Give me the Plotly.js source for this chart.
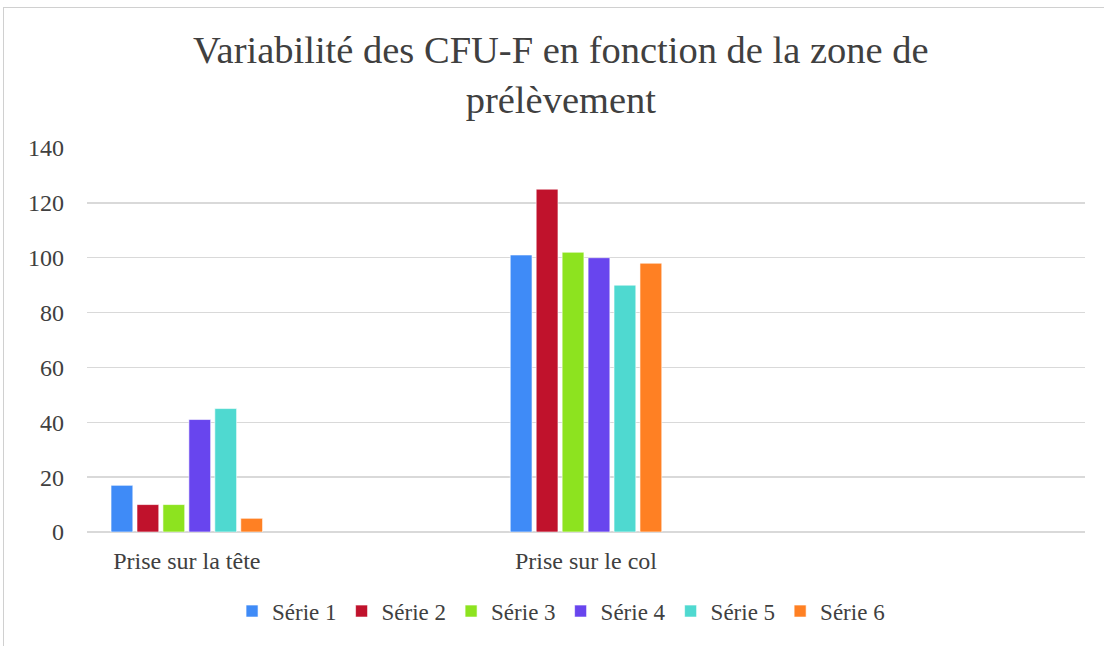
<!DOCTYPE html>
<html>
<head>
<meta charset="utf-8">
<script src="https://cdn.plot.ly/plotly-3.0.1.min.js"></script>
<style>
  html, body { margin: 0; padding: 0; background: #ffffff; }
  #frame { position: absolute; left: 3px; top: 7px; width: 1300px; height: 800px; border: 1px solid #d0d0d0; pointer-events: none; }
  #chart { position: absolute; left: 0; top: 0; width: 1104px; height: 646px; }
</style>
</head>
<body>
<div id="chart"></div>
<div id="frame"></div>
<script>
// Categories (blank slots are empty categories in the original chart)
const categories = ["Prise sur la tête", "", "Prise sur le col", "", ""];
const seriesNames = ["Série 1", "Série 2", "Série 3", "Série 4", "Série 5", "Série 6"];
const serie1 = [17, null, 101, null, null];
const serie2 = [10, null, 125, null, null];
const serie3 = [10, null, 102, null, null];
const serie4 = [41, null, 100, null, null];
const serie5 = [45, null, 90, null, null];
const serie6 = [5, null, 98, null, null];
const yTicks = [0, 20, 40, 60, 80, 100, 120, 140];

const colors = ["#3F8BF7", "#C0122C", "#8DE31F", "#6845EE", "#4FD9D0", "#FF8023"];
const allSeries = [serie1, serie2, serie3, serie4, serie5, serie6];
const xPos = categories.map((c, i) => i);
const FONT = "Liberation Serif, Cambria, serif";

const traces = allSeries.map((vals, k) => ({
  type: "bar",
  name: seriesNames[k],
  x: xPos,
  y: vals,
  marker: { color: colors[k], line: { color: "rgba(255,255,255,0.6)", width: 1 } },
  hoverinfo: "name+y"
}));

const layout = {
  width: 1104,
  height: 646,
  margin: { l: 87, r: 19, t: 148, b: 114 },
  paper_bgcolor: "rgba(0,0,0,0)",
  plot_bgcolor: "rgba(0,0,0,0)",
  barmode: "group",
  bargap: 0.22,
  bargroupgap: 0.16,
  title: {
    text: "Variabilité des CFU-F en fonction de la zone de<br>prélèvement",
    font: { family: FONT, size: 38.5, color: "#404040" },
    x: 0.508,
    xanchor: "center",
    y: 0.902,
    yanchor: "top"
  },
  xaxis: {
    range: [-0.5, 4.5],
    tickmode: "array",
    tickvals: xPos,
    ticktext: categories,
    ticks: "",
    showgrid: false,
    zeroline: false,
    showline: false,
    tickfont: { family: FONT, size: 24, color: "#404040" },
    ticklabelstandoff: 12,
    fixedrange: true
  },
  yaxis: {
    range: [0, 140],
    tickmode: "array",
    tickvals: yTicks,
    ticktext: yTicks.map(String),
    showgrid: true,
    gridcolor: "#d9d9d9",
    gridwidth: 1.5,
    zeroline: true,
    zerolinecolor: "#d9d9d9",
    zerolinewidth: 1.5,
    showline: false,
    ticks: "",
    tickfont: { family: FONT, size: 24, color: "#404040" },
    ticklabelstandoff: 22,
    fixedrange: true
  },
  showlegend: true,
  legend: {
    orientation: "h",
    x: 0.475,
    xanchor: "center",
    y: -0.15,
    yanchor: "top",
    font: { family: FONT, size: 23, color: "#404040" },
    itemwidth: 30,
    traceorder: "normal"
  }
};

Plotly.newPlot("chart", traces, layout, { displayModeBar: false, staticPlot: true });
</script>
</body>
</html>
